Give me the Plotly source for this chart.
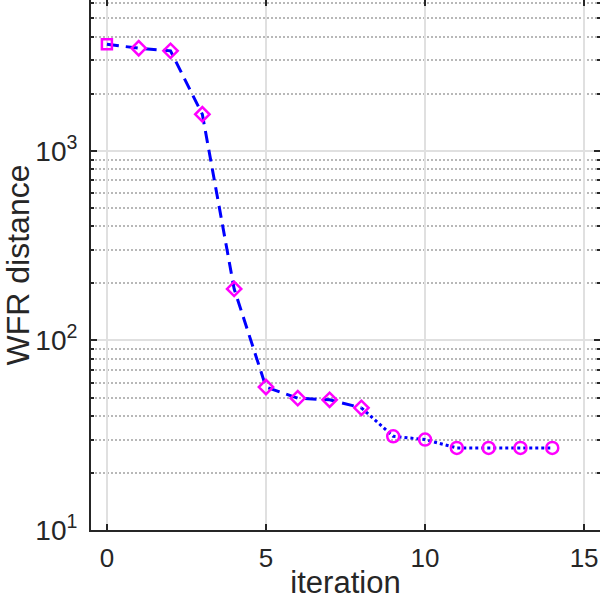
import plotly.graph_objects as go

# values
iteration = [0, 1, 2, 3, 4, 5, 6, 7, 8, 9, 10, 11, 12, 13, 14]
wfr_distance = [3650, 3480, 3370, 1560, 187, 56.8, 49.6, 48.6, 44.1,
                31.2, 30.0, 27.1, 27.1, 27.1, 27.1]

# which marker each step gets, and where the dashed part ends
square_steps = [0]
diamond_steps = [1, 2, 3, 4, 5, 6, 7, 8]
circle_steps = [9, 10, 11, 12, 13, 14]
dashed_steps = [0, 1, 2, 3, 4, 5, 6, 7, 8]
dotted_steps = [8, 9, 10, 11, 12, 13, 14]

x_ticks = [0, 5, 10, 15]
y_ticks = [10, 100, 1000]
y_tick_labels = ["10<sup>1</sup>", "10<sup>2</sup>", "10<sup>3</sup>"]
y_minor = [20, 30, 40, 50, 60, 70, 80, 90,
           200, 300, 400, 500, 600, 700, 800, 900,
           2000, 3000, 4000, 5000, 6000]

def pick(idx, vals):
    return [vals[i] for i in idx]

fig = go.Figure()

line_blue = "#0000ff"
magenta = "#ff00ff"

fig.add_trace(go.Scatter(
    x=pick(dashed_steps, iteration), y=pick(dashed_steps, wfr_distance),
    mode="lines", line=dict(color=line_blue, width=3, dash="12px,7px"),
    showlegend=False))
fig.add_trace(go.Scatter(
    x=pick(dotted_steps, iteration), y=pick(dotted_steps, wfr_distance),
    mode="lines", line=dict(color=line_blue, width=3, dash="3px,3px"),
    showlegend=False))

for steps, symbol, size in [(square_steps, "square-open", 10),
                            (diamond_steps, "diamond-open", 11),
                            (circle_steps, "circle-open", 12)]:
    fig.add_trace(go.Scatter(
        x=pick(steps, iteration), y=pick(steps, wfr_distance),
        mode="markers",
        marker=dict(symbol=symbol, size=size, color=magenta,
                    line=dict(color=magenta, width=2.5)),
        showlegend=False))

axis_color = "#262626"

fig.update_layout(
    width=600, height=600,
    margin=dict(l=91, r=0, t=0, b=70),
    paper_bgcolor="white", plot_bgcolor="white",
    font=dict(family="Liberation Sans, Arial, sans-serif", color=axis_color),
    xaxis=dict(
        range=[-0.5, 15.5], tickvals=x_ticks, automargin=False,
        showline=True, linecolor=axis_color, linewidth=2, mirror="ticks",
        ticks="inside", ticklen=6, tickwidth=1.5, tickcolor=axis_color,
        showgrid=True, gridcolor="#e0e0e0", gridwidth=1.5,
        zeroline=False, tickfont=dict(size=26),
        ticklabelstandoff=4,
        title=dict(text="iteration", font=dict(size=31), standoff=0),
    ),
    yaxis=dict(
        type="log", range=[1, 3.796], automargin=False,
        tickvals=y_ticks, ticktext=y_tick_labels,
        showline=True, linecolor=axis_color, linewidth=2, mirror="ticks",
        ticks="inside", ticklen=6, tickwidth=1.5, tickcolor=axis_color,
        showgrid=True, gridcolor="#e0e0e0", gridwidth=1.5,
        zeroline=False, tickfont=dict(size=28),
        ticklabelstandoff=6,
        minor=dict(tickvals=y_minor, ticks="inside", ticklen=3,
                   tickcolor=axis_color, tickwidth=1.5,
                   showgrid=True, gridcolor="#b8b8b8", gridwidth=1.5,
                   griddash="2px,2px"),
        title=dict(text="WFR distance", font=dict(size=32), standoff=4),
    ),
)

# page body has an 8px margin by default; drop it so the figure sits at 0,0
fig.write_html("out.html", config={"displayModeBar": False},
               post_script="document.body.style.margin='0';")
